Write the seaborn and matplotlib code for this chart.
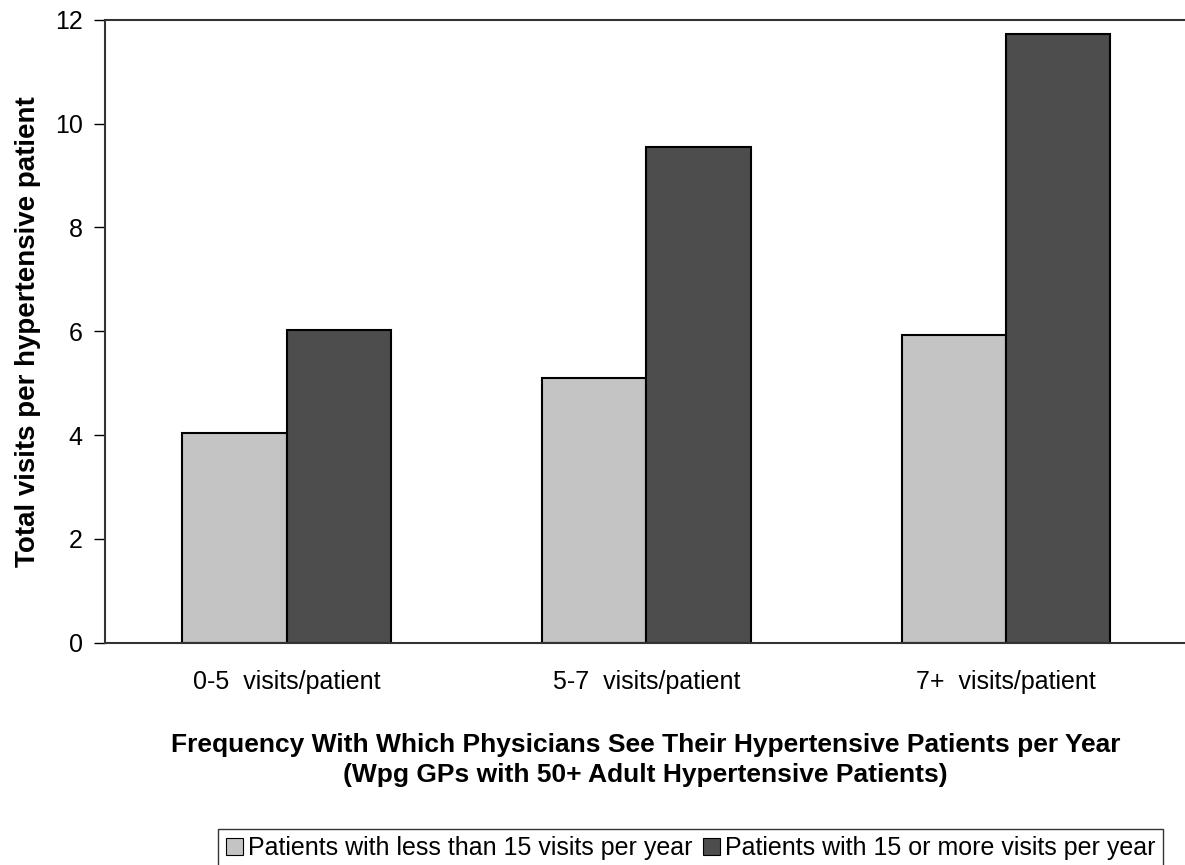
import pandas as pd
import matplotlib.pyplot as plt
import seaborn as sns
from matplotlib.patches import Patch

sns.set_style("white")
plt.rcParams['font.family'] = ['Liberation Sans', 'DejaVu Sans']
plt.rcParams['text.color'] = 'black'
plt.rcParams['axes.labelcolor'] = 'black'

categories = ["0-5  visits/patient", "5-7  visits/patient", "7+  visits/patient"]
series_names = ["Patients with less than 15 visits per year",
                "Patients with 15 or more visits per year"]
less_15 = [4.05, 5.1, 5.93]
more_15 = [6.03, 9.55, 11.73]

df = pd.DataFrame({
    "group": categories * 2,
    "series": [series_names[0]] * 3 + [series_names[1]] * 3,
    "visits": less_15 + more_15,
})

colors = {series_names[0]: "#c4c4c4", series_names[1]: "#4d4d4d"}

fig = plt.figure(figsize=(11.85, 8.65), dpi=100)
ax = fig.add_axes([0.0886, 0.257, 0.912, 0.72])

sns.barplot(data=df, x="group", y="visits", hue="series", order=categories,
            hue_order=series_names, palette=colors, width=0.58, gap=0,
            edgecolor="black", linewidth=1.5, saturation=1, ax=ax, legend=False)

ax.set_xlim(-0.505, 2.5)
ax.set_ylim(0, 12)
ax.set_yticks(range(0, 13, 2))
ax.tick_params(axis="y", direction="out", length=8, width=1, colors="black",
               labelsize=18, left=True, pad=8)
ax.tick_params(axis="x", length=0, labelsize=18, pad=20, labelcolor="black")

for side in ["left", "top", "bottom"]:
    ax.spines[side].set_visible(True)
    ax.spines[side].set_color("#333333")
    ax.spines[side].set_linewidth(1.5)
ax.spines["right"].set_visible(False)

ax.set_ylabel("Total visits per hypertensive patient", fontsize=20,
              fontweight="bold", labelpad=10)
ax.set_xlabel("Frequency With Which Physicians See Their Hypertensive Patients per Year\n"
              "(Wpg GPs with 50+ Adult Hypertensive Patients)",
              fontsize=19, fontweight="bold", labelpad=28, linespacing=1.3)

handles = [Patch(facecolor=colors[s], edgecolor="black", linewidth=0.8) for s in series_names]
fig.legend(handles, series_names, loc="upper left", bbox_to_anchor=(0.184, 0.042),
           ncol=2, fontsize=18, frameon=True, fancybox=False, edgecolor="black",
           handlelength=0.7, handleheight=0.7, handletextpad=0.2, columnspacing=0.4,
           borderpad=0.3, borderaxespad=0)

fig.savefig("out.png", dpi=100)
